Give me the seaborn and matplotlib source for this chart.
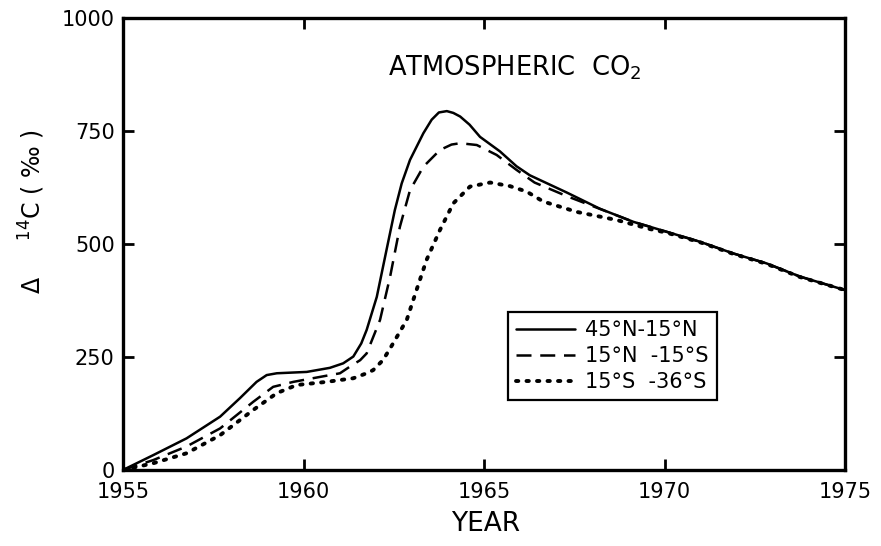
import numpy as np
import pandas as pd
import matplotlib
matplotlib.use("Agg")
import matplotlib.pyplot as plt
import seaborn as sns

# --- data ---
years_n = [1955.0, 1955.1, 1955.84, 1956.76, 1957.69, 1958.24, 1958.7, 1958.98, 1959.26,
           1960.09, 1960.73, 1961.1, 1961.38, 1961.6, 1961.75, 1962.03, 1962.3,
           1962.53, 1962.72, 1962.95, 1963.32, 1963.55, 1963.75, 1963.97, 1964.15,
           1964.34, 1964.6, 1964.89, 1965.44, 1965.9, 1966.27, 1967.29, 1968.21,
           1969.14, 1970.06, 1970.98, 1971.91, 1972.83, 1973.75, 1975.0]
vals_n = [0, 4, 33, 70, 118, 159, 195, 210, 214,
          217, 226, 236, 251, 280, 310, 383, 487,
          575, 634, 686, 745, 775, 791, 794, 790,
          782, 764, 737, 705, 672, 652, 614, 578,
          549, 527, 505, 479, 457, 428, 398]

years_eq = [1955.0, 1955.84, 1956.76, 1957.69, 1958.61, 1959.16, 1959.72, 1960.46, 1961.01,
            1961.29, 1961.57, 1961.75, 1962.12, 1962.4, 1962.67, 1962.95, 1963.32,
            1963.78, 1964.1, 1964.34, 1964.8, 1965.35, 1965.9, 1966.4, 1967.29,
            1968.2, 1969.14, 1970.06, 1970.98, 1971.91, 1972.83, 1973.75, 1975.0]
vals_eq = [0, 22, 52, 92, 151, 184, 195, 206, 214,
           229, 243, 258, 332, 428, 538, 619, 671,
           708, 720, 723, 719, 697, 664, 636, 606,
           578, 549, 527, 505, 479, 457, 428, 398]

years_s = [1955.0, 1955.84, 1956.76, 1957.69, 1958.61, 1959.26, 1959.81, 1960.64, 1961.38,
           1961.75, 1961.93, 1962.2, 1962.4, 1962.86, 1963.13, 1963.41, 1963.78,
           1964.15, 1964.61, 1965.17, 1965.72, 1966.18, 1966.64, 1967.57, 1968.68,
           1969.6, 1970.06, 1970.98, 1971.91, 1972.83, 1973.75, 1975.0]
vals_s = [0, 15, 37, 77, 133, 170, 188, 195, 203,
          214, 221, 243, 269, 332, 398, 465, 531,
          590, 627, 636, 628, 616, 594, 571, 553,
          533, 525, 504, 478, 456, 427, 398]

labels = ["45°N-15°N", "15°N  -15°S", "15°S  -36°S"]

xticks = [1955, 1960, 1965, 1970, 1975]
yticks = [0, 250, 500, 750, 1000]

df = pd.concat([
    pd.DataFrame({"year": years_n, "val": vals_n, "band": labels[0]}),
    pd.DataFrame({"year": years_eq, "val": vals_eq, "band": labels[1]}),
    pd.DataFrame({"year": years_s, "val": vals_s, "band": labels[2]}),
])

sns.set_theme(style="ticks")
plt.rcParams["font.family"] = ["DejaVu Sans"]
plt.rcParams["mathtext.fontset"] = "dejavusans"
plt.rcParams["text.color"] = "black"
plt.rcParams["axes.labelcolor"] = "black"
plt.rcParams["xtick.color"] = "black"
plt.rcParams["ytick.color"] = "black"

fig = plt.figure(figsize=(8.81, 5.46), dpi=100)
ax = fig.add_axes([123 / 881, 1 - 470 / 546, (845 - 123) / 881, (470 - 18) / 546])

styles = {labels[0]: dict(ls="-", lw=1.8),
          labels[1]: dict(ls=(0, (6, 3.5)), lw=1.8),
          labels[2]: dict(ls=(0, (0.6, 2.1)), lw=2.8, dash_capstyle="round")}

for lab in labels:
    sub = df[df["band"] == lab]
    sns.lineplot(data=sub, x="year", y="val", ax=ax, color="black",
                 label=lab, **styles[lab])

ax.set_xlim(1955, 1975)
ax.set_ylim(0, 1000)
ax.set_xticks(xticks)
ax.set_yticks(yticks)
ax.set_xticklabels([str(t) for t in xticks], fontsize=15)
ax.set_yticklabels([str(t) for t in yticks], fontsize=15)
ax.tick_params(direction="in", length=8, width=2, top=True, right=True,
               colors="black")
ax.tick_params(axis="x", pad=9)
ax.tick_params(axis="y", pad=6)
for s in ax.spines.values():
    s.set_linewidth(2.4)
    s.set_color("black")
ax.set_xlabel("")
ax.set_ylabel("")

fig.text(486 / 881, 1 - 524 / 546, "YEAR", ha="center", va="center", fontsize=19)
fig.text(32 / 881, 1 - 212 / 546, r"$\Delta$     $^{14}$C ( ‰ )", rotation=90,
         ha="center", va="center", fontsize=17)

ax.text((388 - 123) / 722, (470 - 68) / 452, r"ATMOSPHERIC  CO$_2$",
        transform=ax.transAxes, ha="left", va="center", fontsize=18.5)

leg = ax.legend(loc="upper left", bbox_to_anchor=((508 - 123) / 722, (470 - 312) / 452),
                frameon=True, fancybox=False, fontsize=15, handlelength=2.8,
                borderpad=0.4, labelspacing=0.28, handletextpad=0.5,
                borderaxespad=0.0, framealpha=1.0)
leg.get_frame().set_edgecolor("black")
leg.get_frame().set_linewidth(1.6)

fig.savefig("out.png", dpi=100)
